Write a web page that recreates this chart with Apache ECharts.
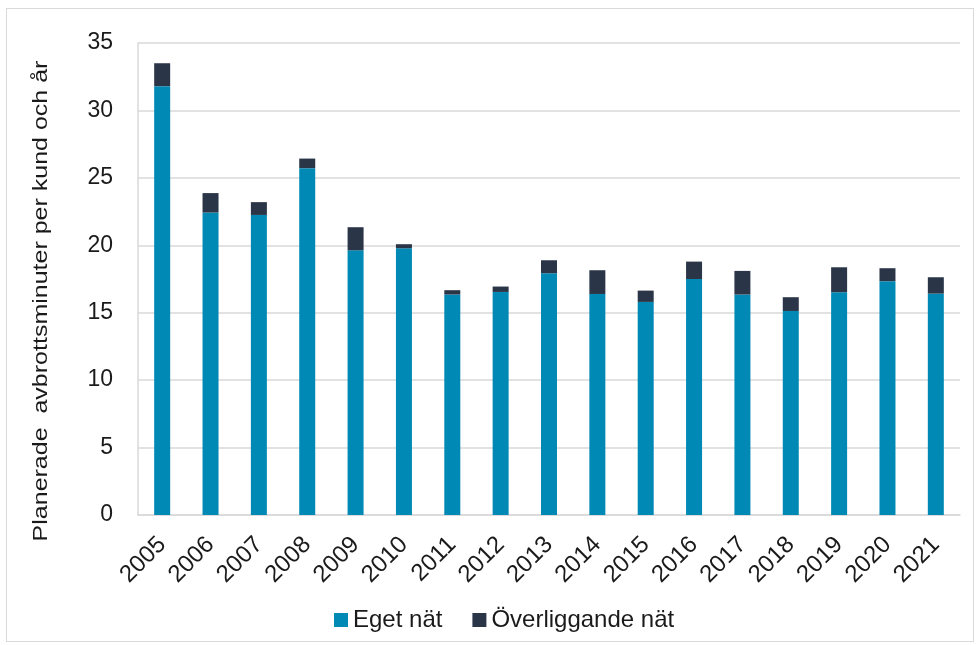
<!DOCTYPE html>
<html>
<head>
<meta charset="utf-8">
<script src="https://cdn.jsdelivr.net/npm/echarts@6/dist/echarts.min.js"></script>
<style>
    html, body { margin: 0; padding: 0; background: #fff; }
    #frame {
        position: absolute; left: 6px; top: 8px; width: 968px; height: 634px;
        border: 1px solid #d9d9d9; box-sizing: border-box;
    }
    #chart { position: absolute; left: 0; top: 0; width: 977px; height: 645px; }
</style>
</head>
<body>
<div id="frame"></div>
<div id="chart"></div>
<script>
    var years = ['2005', '2006', '2007', '2008', '2009', '2010', '2011', '2012', '2013',
        '2014', '2015', '2016', '2017', '2018', '2019', '2020', '2021'];
    // egen del av nätet
    var egetNat = [31.8, 22.43, 22.25, 25.72, 19.63, 19.78, 16.35, 16.54, 17.93,
        16.39, 15.8, 17.5, 16.35, 15.13, 16.52, 17.34, 16.42];
    // överliggande nät
    var overliggandeNat = [1.7, 1.44, 0.95, 0.71, 1.71, 0.3, 0.32, 0.4, 0.96,
        1.76, 0.84, 1.29, 1.75, 1.02, 1.85, 0.96, 1.21];
    var yTicks = [0, 5, 10, 15, 20, 25, 30, 35];
    var yTitle = 'Planerade  avbrottsminuter per kund och år';

    var font = '"Liberation Sans", Arial, sans-serif';
    var chart = echarts.init(document.getElementById('chart'));
    var option = {
        animation: false,
        grid: {
            left: 138,
            right: 17,
            top: 43,
            bottom: 130
        },
        legend: {
            bottom: 8,
            left: 329,
            itemWidth: 14,
            itemHeight: 14,
            itemGap: 30,
            icon: 'rect',
            textStyle: { color: '#1a1a1a', fontSize: 24, fontFamily: font },
            data: ['Eget nät', 'Överliggande nät']
        },
        // y-axelns titel, lite utdragen som i originalet
        graphic: [{
            type: 'text',
            x: 41,
            y: 301,
            rotation: Math.PI / 2,
            scaleX: 1.25,
            style: {
                text: yTitle,
                fontSize: 20,
                fontFamily: font,
                fill: '#1a1a1a',
                align: 'center',
                verticalAlign: 'middle'
            }
        }],
        xAxis: {
            type: 'category',
            data: years,
            axisLine: { lineStyle: { color: '#d9d9d9', width: 1.5 } },
            axisTick: { show: false },
            axisLabel: {
                interval: 0,
                rotate: 45,
                color: '#1a1a1a',
                fontSize: 24,
                fontFamily: font,
                margin: 26
            }
        },
        yAxis: {
            type: 'value',
            min: yTicks[0],
            max: yTicks[yTicks.length - 1],
            interval: 5,
            axisLine: { show: true, lineStyle: { color: '#d9d9d9', width: 1.5 } },
            axisTick: { show: false },
            splitLine: { lineStyle: { color: '#d9d9d9', width: 1.5 } },
            axisLabel: {
                color: '#1a1a1a',
                fontSize: 23,
                fontFamily: font,
                margin: 25
            }
        },
        series: [
            {
                name: 'Eget nät',
                type: 'bar',
                stack: 'total',
                barWidth: 16,
                itemStyle: { color: '#0089b5' },
                data: egetNat
            },
            {
                name: 'Överliggande nät',
                type: 'bar',
                stack: 'total',
                barWidth: 16,
                itemStyle: { color: '#2b3548' },
                data: overliggandeNat
            }
        ]
    };
    chart.setOption(option);
</script>
</body>
</html>
